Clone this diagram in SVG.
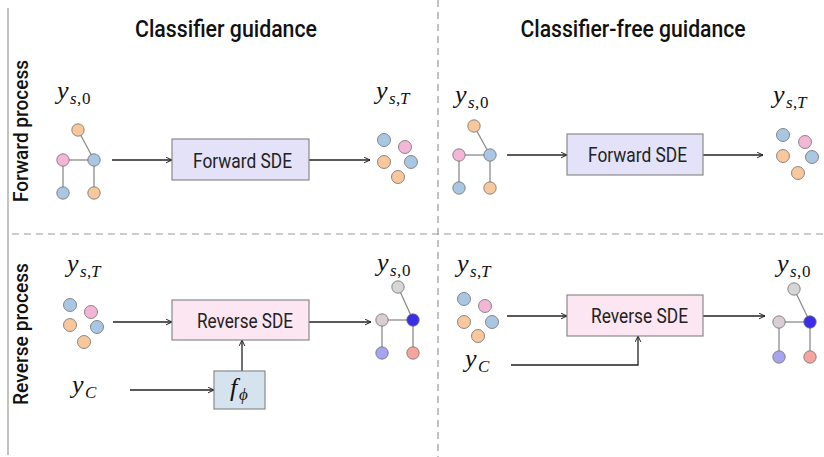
<svg xmlns="http://www.w3.org/2000/svg" width="824" height="457" viewBox="0 0 824 457">
<defs>
<style>
.title{font-family:Roboto,"Liberation Sans",sans-serif;font-weight:500;font-size:24px;fill:#111;text-anchor:middle}
.side{font-family:Roboto,"Liberation Sans",sans-serif;font-weight:500;font-size:21px;fill:#111;text-anchor:middle}
.box{stroke:#8a8a8a;stroke-width:1.2}
.fwd{fill:#e4e2f8}
.rev{fill:#fce6f2}
.cls{fill:#d5e3ee}
.bt{font-family:Roboto,"Liberation Sans",sans-serif;font-size:20px;fill:#222;text-anchor:middle}
.m{font-family:"Liberation Serif","DejaVu Serif",serif;font-style:italic;font-size:26px;fill:#111}
.s{font-size:17px}
.r{font-style:normal}
.edge{stroke:#8c8c8c;stroke-width:1.3}
.nd{stroke:#6e6e6e;stroke-width:0.8}
.b{fill:#a9c7e2}
.o{fill:#f9c79c}
.p{fill:#f4b6d6}
.g{fill:#d6d6d6}
.mv{fill:#dacdd6}
.db{fill:#3b2ee6}
.lv{fill:#a7a3ef}
.sa{fill:#f5a59d}
.ar{stroke:#222;stroke-width:1.3;fill:none}
.dash{stroke:#9a9a9a;stroke-width:1.2;stroke-dasharray:7 5;fill:none}
</style>
<marker id="ah" viewBox="0 0 10 10" refX="9.5" refY="5" markerWidth="7" markerHeight="7" markerUnits="userSpaceOnUse" orient="auto">
<path d="M1,1 L9.5,5 L1,9" fill="none" stroke="#222" stroke-width="1.4"/>
</marker>
</defs>
<rect width="824" height="457" fill="#fff"/>

<g id="frame">
<line x1="8" y1="8" x2="8" y2="455" stroke="#9a9a9a" stroke-width="1.2"/>
<line class="dash" x1="438" y1="0" x2="438" y2="457"/>
<line class="dash" x1="12" y1="234" x2="824" y2="234"/>
</g>

<g id="titles">
<text class="title" x="226" y="37" textLength="182" lengthAdjust="spacingAndGlyphs">Classifier guidance</text>
<text class="title" x="633" y="37" textLength="225" lengthAdjust="spacingAndGlyphs">Classifier-free guidance</text>
<text class="side" transform="translate(28,131) rotate(-90)" textLength="142" lengthAdjust="spacingAndGlyphs">Forward process</text>
<text class="side" transform="translate(28,334) rotate(-90)" textLength="142" lengthAdjust="spacingAndGlyphs">Reverse process</text>
</g>

<g id="connectors">
<line class="ar" x1="112" y1="160" x2="172" y2="160" marker-end="url(#ah)"/>
<line class="ar" x1="309" y1="160" x2="370" y2="160" marker-end="url(#ah)"/>
<line class="ar" x1="507" y1="155" x2="567" y2="155" marker-end="url(#ah)"/>
<line class="ar" x1="703" y1="155" x2="763" y2="155" marker-end="url(#ah)"/>
<line class="ar" x1="113" y1="322" x2="172" y2="322" marker-end="url(#ah)"/>
<line class="ar" x1="309" y1="322" x2="371" y2="322" marker-end="url(#ah)"/>
<line class="ar" x1="130" y1="390" x2="214" y2="390" marker-end="url(#ah)"/>
<line class="ar" x1="242" y1="371" x2="242" y2="340" marker-end="url(#ah)"/>
<line class="ar" x1="507" y1="316" x2="567" y2="316" marker-end="url(#ah)"/>
<line class="ar" x1="703" y1="316" x2="765" y2="316" marker-end="url(#ah)"/>
<polyline class="ar" points="511,365 638,365 638,336" marker-end="url(#ah)"/>
</g>

<g id="forward-sde-left">
<rect class="box fwd" x="172" y="139" width="137" height="41"/>
<text class="bt" x="242.5" y="168" textLength="99" lengthAdjust="spacingAndGlyphs">Forward SDE</text>
</g>
<g id="forward-sde-right">
<rect class="box fwd" x="567" y="134" width="136" height="41"/>
<text class="bt" x="637.5" y="162" textLength="99" lengthAdjust="spacingAndGlyphs">Forward SDE</text>
</g>
<g id="reverse-sde-left">
<rect class="box rev" x="172" y="300" width="137" height="40"/>
<text class="bt" x="245" y="328" textLength="96" lengthAdjust="spacingAndGlyphs">Reverse SDE</text>
</g>
<g id="reverse-sde-right">
<rect class="box rev" x="567" y="295" width="136" height="41"/>
<text class="bt" x="639.5" y="323" textLength="97" lengthAdjust="spacingAndGlyphs">Reverse SDE</text>
</g>
<g id="classifier">
<rect class="box cls" x="214" y="371" width="51" height="38"/>
<text class="m" x="230" y="396">f</text>
<text class="m s" x="239" y="400">ϕ</text>
</g>

<g id="graph-fwd-left">
<line class="edge" x1="78" y1="130" x2="94" y2="160"/>
<line class="edge" x1="63" y1="160" x2="94" y2="160"/>
<line class="edge" x1="63" y1="160" x2="63" y2="193"/>
<line class="edge" x1="94" y1="160" x2="94" y2="193"/>
<circle class="nd o" cx="78" cy="130" r="6.2"/>
<circle class="nd p" cx="63" cy="160" r="6.2"/>
<circle class="nd b" cx="94" cy="160" r="6.2"/>
<circle class="nd b" cx="63" cy="193" r="6.2"/>
<circle class="nd o" cx="94" cy="193" r="6.2"/>
</g>
<g id="graph-fwd-right">
<line class="edge" x1="474" y1="126" x2="490" y2="155"/>
<line class="edge" x1="459" y1="155" x2="490" y2="155"/>
<line class="edge" x1="459" y1="155" x2="459" y2="188"/>
<line class="edge" x1="490" y1="155" x2="490" y2="188"/>
<circle class="nd o" cx="474" cy="126" r="6.2"/>
<circle class="nd p" cx="459" cy="155" r="6.2"/>
<circle class="nd b" cx="490" cy="155" r="6.2"/>
<circle class="nd b" cx="459" cy="188" r="6.2"/>
<circle class="nd o" cx="490" cy="188" r="6.2"/>
</g>
<g id="graph-rev-left">
<line class="edge" x1="398" y1="287" x2="413" y2="320"/>
<line class="edge" x1="382" y1="320" x2="413" y2="320"/>
<line class="edge" x1="382" y1="320" x2="382" y2="353"/>
<line class="edge" x1="413" y1="320" x2="413" y2="353"/>
<circle class="nd g" cx="398" cy="287" r="6.2"/>
<circle class="nd mv" cx="382" cy="320" r="6.2"/>
<circle class="nd db" cx="413" cy="320" r="6.2"/>
<circle class="nd lv" cx="382" cy="353" r="6.2"/>
<circle class="nd sa" cx="413" cy="353" r="6.2"/>
</g>
<g id="graph-rev-right">
<line class="edge" x1="794" y1="289" x2="810" y2="322"/>
<line class="edge" x1="779" y1="322" x2="810" y2="322"/>
<line class="edge" x1="779" y1="322" x2="779" y2="357"/>
<line class="edge" x1="810" y1="322" x2="810" y2="357"/>
<circle class="nd g" cx="794" cy="289" r="6.2"/>
<circle class="nd mv" cx="779" cy="322" r="6.2"/>
<circle class="nd db" cx="810" cy="322" r="6.2"/>
<circle class="nd lv" cx="779" cy="357" r="6.2"/>
<circle class="nd sa" cx="810" cy="357" r="6.2"/>
</g>

<g id="noise-fwd-left">
<circle class="nd b" cx="384" cy="140" r="6.5"/>
<circle class="nd p" cx="405" cy="147" r="6.5"/>
<circle class="nd o" cx="384" cy="162" r="6.5"/>
<circle class="nd b" cx="411" cy="162" r="6.5"/>
<circle class="nd o" cx="398" cy="177" r="6.5"/>
</g>
<g id="noise-fwd-right">
<circle class="nd b" cx="783" cy="135" r="6.5"/>
<circle class="nd p" cx="805" cy="142" r="6.5"/>
<circle class="nd o" cx="783" cy="156" r="6.5"/>
<circle class="nd b" cx="812" cy="157" r="6.5"/>
<circle class="nd o" cx="798" cy="173" r="6.5"/>
</g>
<g id="noise-rev-left">
<circle class="nd b" cx="70" cy="305" r="6.5"/>
<circle class="nd p" cx="91" cy="312" r="6.5"/>
<circle class="nd o" cx="70" cy="325" r="6.5"/>
<circle class="nd b" cx="97" cy="327" r="6.5"/>
<circle class="nd o" cx="84" cy="342" r="6.5"/>
</g>
<g id="noise-rev-right">
<circle class="nd b" cx="464" cy="299" r="6.5"/>
<circle class="nd p" cx="485" cy="306" r="6.5"/>
<circle class="nd o" cx="464" cy="322" r="6.5"/>
<circle class="nd b" cx="492" cy="322" r="6.5"/>
<circle class="nd o" cx="478" cy="336" r="6.5"/>
</g>

<g id="labels">
<g id="lbl-ys0-fl"><text class="m" x="57" y="99">y</text><text class="m s" x="70" y="104">s</text><text class="m s r" x="77" y="104">,</text><text class="m s r" x="82" y="104">0</text></g>
<g id="lbl-ysT-fl"><text class="m" x="376" y="99">y</text><text class="m s" x="389" y="104">s</text><text class="m s r" x="396" y="104">,</text><text class="m s" x="400" y="104">T</text></g>
<g id="lbl-ys0-fr"><text class="m" x="455" y="103">y</text><text class="m s" x="468" y="108">s</text><text class="m s r" x="475" y="108">,</text><text class="m s r" x="480" y="108">0</text></g>
<g id="lbl-ysT-fr"><text class="m" x="773" y="103">y</text><text class="m s" x="786" y="108">s</text><text class="m s r" x="793" y="108">,</text><text class="m s" x="797" y="108">T</text></g>
<g id="lbl-ysT-rl"><text class="m" x="67" y="272">y</text><text class="m s" x="80" y="277">s</text><text class="m s r" x="87" y="277">,</text><text class="m s" x="91" y="277">T</text></g>
<g id="lbl-ys0-rl"><text class="m" x="377" y="271">y</text><text class="m s" x="390" y="276">s</text><text class="m s r" x="397" y="276">,</text><text class="m s r" x="402" y="276">0</text></g>
<g id="lbl-ysT-rr"><text class="m" x="457" y="272">y</text><text class="m s" x="470" y="277">s</text><text class="m s r" x="477" y="277">,</text><text class="m s" x="481" y="277">T</text></g>
<g id="lbl-ys0-rr"><text class="m" x="777" y="272">y</text><text class="m s" x="790" y="277">s</text><text class="m s r" x="797" y="277">,</text><text class="m s r" x="802" y="277">0</text></g>
<g id="lbl-yc-l"><text class="m" x="72" y="393">y</text><text class="m s" x="85" y="398">C</text></g>
<g id="lbl-yc-r"><text class="m" x="465" y="367">y</text><text class="m s" x="478" y="372">C</text></g>
</g>
</svg>
